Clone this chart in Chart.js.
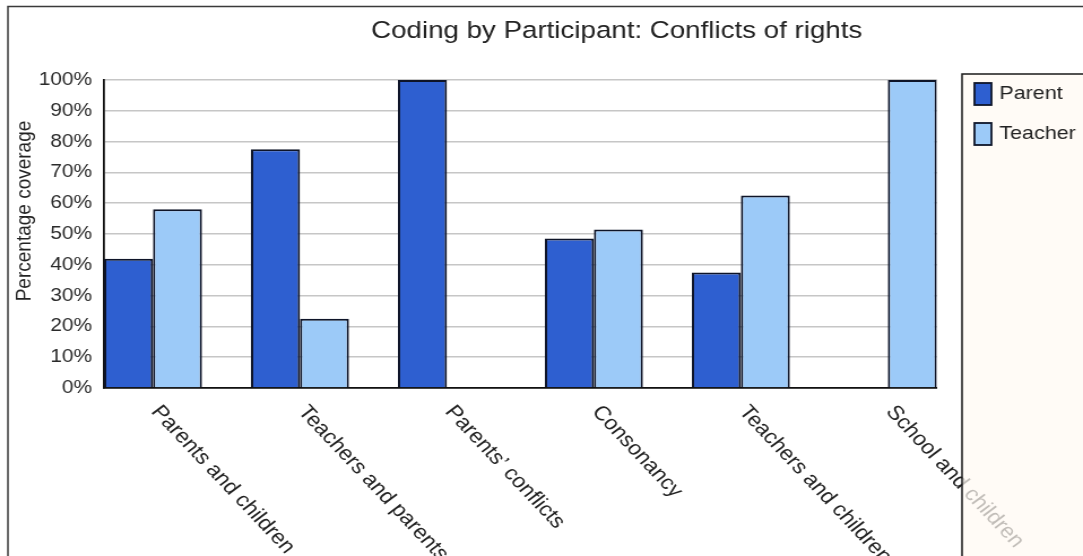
<!DOCTYPE html>
<html>
<head>
<meta charset="utf-8">
<title>Coding by Participant: Conflicts of rights</title>
<script src="https://cdn.jsdelivr.net/npm/chart.js@4/dist/chart.umd.min.js"></script>
<style>
  html, body { margin: 0; padding: 0; background: #ffffff; overflow: hidden; }
  #wrap { width: 1083px; height: 556px; position: relative; overflow: hidden; }
  #chart { position: absolute; left: 0; top: 0; }
</style>
</head>
<body>
<div id="wrap">
  <!-- drawn at 958px wide and widened to 1083px on screen -->
  <canvas id="chart" width="958" height="556" style="width:1083px;height:556px;"></canvas>
</div>
<script>
// ---- data ----
const chartTitle = 'Coding by Participant: Conflicts of rights';
const yAxisTitle = 'Percentage coverage';
const categories = [
  'Parents and children',
  'Teachers and parents',
  'Parents\u2019 conflicts',
  'Consonancy',
  'Teachers and children',
  'School and children'
];
const seriesNames = ['Parent', 'Teacher'];
const parentCoverage  = [42, 77.5, 100, 48.5, 37.5, null];
const teacherCoverage = [58, 22.5, null, 51.5, 62.5, 100];
const yTicks = [0, 10, 20, 30, 40, 50, 60, 70, 80, 90, 100];

// ---- look ----
const FONT = '"Liberation Sans", Arial, Helvetica, sans-serif';
const TEXT = '#222222';
const PARENT_FILL = '#2e5fd0';
const TEACHER_FILL = '#9ccaf8';
const BAR_EDGE = '#0e1428';
const CANVAS_W = 958;
const CANVAS_H = 556;
const LABEL_SHIFT = 0.075;   // start of each slanted name, in group units from the group centre
const LABEL_ANGLE = 50;

const toPoints = arr => arr.map((v, i) => ({ x: i, y: v }));

// Title, axis title, slanted category names, frame and legend panel
const decorations = {
  id: 'decorations',
  beforeDraw(chart) {
    const ctx = chart.ctx;
    ctx.save();
    ctx.fillStyle = '#ffffff';
    ctx.fillRect(0, 0, chart.width, chart.height);
    ctx.restore();
  },
  afterDraw(chart) {
    const ctx = chart.ctx;
    const xs = chart.scales.x;
    const area = chart.chartArea;

    // title
    ctx.save();
    ctx.font = '24.5px ' + FONT;
    ctx.fillStyle = TEXT;
    ctx.textAlign = 'center';
    ctx.textBaseline = 'middle';
    ctx.fillText(chartTitle, 545.5, 31.5);
    ctx.restore();

    // y axis title
    ctx.save();
    ctx.translate(21.3, 211);
    ctx.rotate(-Math.PI / 2);
    ctx.font = '19px ' + FONT;
    ctx.fillStyle = TEXT;
    ctx.textAlign = 'center';
    ctx.textBaseline = 'middle';
    ctx.fillText(yAxisTitle, 0, 0);
    ctx.restore();

    // category names, slanted down to the right
    ctx.save();
    ctx.font = '20.3px ' + FONT;
    ctx.fillStyle = TEXT;
    ctx.textAlign = 'left';
    ctx.textBaseline = 'top';
    categories.forEach((name, i) => {
      const px = xs.getPixelForValue(i + LABEL_SHIFT);
      ctx.save();
      ctx.translate(px, area.bottom + 14);
      ctx.rotate(LABEL_ANGLE * Math.PI / 180);
      ctx.fillText(name, 0, 0);
      ctx.restore();
    });
    ctx.restore();

    // outer frame (left and top edges)
    ctx.save();
    ctx.strokeStyle = '#3a3a3a';
    ctx.lineWidth = 1.5;
    ctx.beginPath();
    ctx.moveTo(7, CANVAS_H);
    ctx.lineTo(7, 6.5);
    ctx.lineTo(CANVAS_W, 6.5);
    ctx.stroke();
    ctx.restore();

    // legend panel: a tinted sheet laid over whatever runs under it
    const lx = 851, ly = 74;
    ctx.save();
    ctx.fillStyle = 'rgba(255, 250, 242, 0.72)';
    ctx.fillRect(lx, ly, CANVAS_W - lx, CANVAS_H - ly);
    ctx.strokeStyle = '#1a1a1a';
    ctx.lineWidth = 1.5;
    ctx.beginPath();
    ctx.moveTo(lx, CANVAS_H);
    ctx.lineTo(lx, ly);
    ctx.lineTo(CANVAS_W, ly);
    ctx.stroke();

    ctx.font = '19px ' + FONT;
    ctx.textAlign = 'left';
    ctx.textBaseline = 'middle';
    chart.data.datasets.forEach((ds, i) => {
      const sy = 83 + i * 40;
      ctx.fillStyle = ds.backgroundColor;
      ctx.fillRect(862, sy, 15, 22);
      ctx.strokeStyle = ds.borderColor;
      ctx.lineWidth = 1.8;
      ctx.strokeRect(862, sy, 15, 22);
      ctx.fillStyle = TEXT;
      ctx.fillText(ds.label, 884, sy + 11);
    });
    ctx.restore();
  }
};

new Chart(document.getElementById('chart'), {
  type: 'bar',
  data: {
    datasets: [
      {
        label: seriesNames[0],
        data: toPoints(parentCoverage),
        backgroundColor: PARENT_FILL,
        borderColor: BAR_EDGE,
        borderWidth: 2,
        categoryPercentage: 2 / 3,
        barPercentage: 1
      },
      {
        label: seriesNames[1],
        data: toPoints(teacherCoverage),
        backgroundColor: TEACHER_FILL,
        borderColor: BAR_EDGE,
        borderWidth: 2,
        categoryPercentage: 2 / 3,
        barPercentage: 1
      }
    ]
  },
  options: {
    responsive: false,
    animation: false,
    events: [],
    devicePixelRatio: 1,
    layout: { padding: { top: 80, right: 129.3, left: 0, bottom: 0 } },
    plugins: {
      legend: { display: false },
      title: { display: false },
      tooltip: { enabled: false }
    },
    scales: {
      x: {
        type: 'linear',
        min: -1 / 3,
        max: categories.length - 1 + 1 / 3,
        offset: false,
        ticks: { display: false, stepSize: 1 },
        grid: { display: true, color: 'rgba(0,0,0,0)', drawTicks: false },
        border: { display: true, color: '#111111', width: 1.8 },
        afterFit(scale) { scale.height = CANVAS_H - 388; }
      },
      y: {
        min: yTicks[0],
        max: yTicks[yTicks.length - 1],
        afterBuildTicks(scale) { scale.ticks = yTicks.map(v => ({ value: v })); },
        ticks: {
          callback: v => v + '%',
          font: { family: FONT, size: 18.5 },
          color: '#2a2a2a',
          padding: 10.5
        },
        grid: { color: '#c6c6c6', lineWidth: 1.5, drawTicks: false },
        border: { display: true, color: '#111111', width: 1.8 },
        afterFit(scale) { scale.width = 92; }
      }
    }
  },
  plugins: [decorations]
});
</script>
</body>
</html>
